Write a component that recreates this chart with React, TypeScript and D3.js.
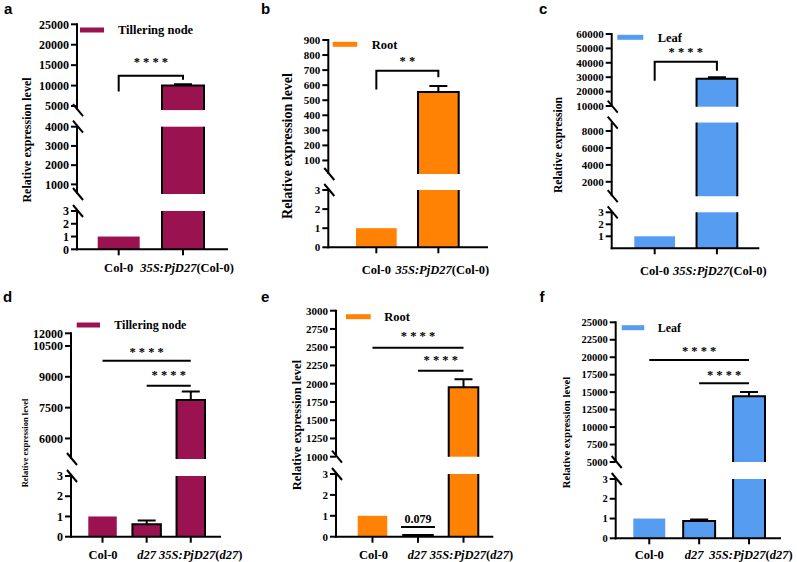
import React from "react";
import * as d3 from "d3";

// genotypes
const colGroups = ["Col-0", "35S:PjD27(Col-0)"];
const d27Groups = ["Col-0", "d27", "35S:PjD27(d27)"];

// relative expression, Col-0 background
const tilleringCol = [1, 10000];
const tilleringColErr = [0, 300];
const rootCol = [1, 555];
const rootColErr = [0, 40];
const leafCol = [1, 29000];
const leafColErr = [0, 1000];

// relative expression, d27 background
const tilleringD27 = [1, 0.62, 7870];
const tilleringD27Err = [0, 0.18, 410];
const rootD27 = [1, 0.079, 1950];
const rootD27Err = [0, 0, 110];
const leafD27 = [1, 0.88, 14400];
const leafD27Err = [0, 0.07, 620];

// broken-axis tick values
const ticksA = [[0, 1, 2, 3], [1000, 2000, 3000, 4000], [5000, 10000, 15000, 20000, 25000]];
const ticksB = [[0, 1, 2, 3], [100, 200, 300, 400, 500, 600, 700, 800, 900]];
const ticksC = [[1, 2, 3], [2000, 4000, 6000, 8000], [10000, 20000, 30000, 40000, 50000, 60000]];
const ticksD = [[0, 1, 2, 3], [6000, 7500, 9000, 10500, 12000]];
const ticksE = [[0, 1, 2, 3], [1000, 1250, 1500, 1750, 2000, 2250, 2500, 2750, 3000]];
const ticksF = [[0, 1, 2, 3], [5000, 7500, 10000, 12500, 15000, 17500, 20000, 22500, 25000]];

const MAROON = "#9b1250";
const ORANGE = "#ff8204";
const BLUE = "#569cf0";
const serif = '"Liberation Serif", "Times New Roman", "DejaVu Serif", serif';
const sans = '"Liberation Sans", Arial, sans-serif';

type Segment = { domain: number[]; range: number[]; ticks: number[] };
type Sig = { a: number; b: number; level: number; legs?: number[]; stars: string; above: number };
type PanelSpec = {
  letter: string;
  letterPos: number[];
  groups: string[];
  values: number[];
  errors: number[];
  color: string;
  axisX: number;
  axisEnd: number;
  barRange: number[];
  pad: number;
  segments: Segment[];
  tickSize: number;
  yLabel: string;
  yLabelPos: number[];
  yLabelSize: number;
  xLabelY: number;
  xLabelShift: number[];
  legend: string;
  swatch: number[];
  legendY: number;
  legendTextX: number;
  legendSize: number;
  sigs: Sig[];
  valueLabel?: number;
};

function labelParts(label: string) {
  // genotype names in italics
  return label
    .split(/(35S:PjD27|d27)/)
    .filter(Boolean)
    .map((t) => ({ t, italic: t === "35S:PjD27" || t === "d27" }));
}

function Panel({ p }: { p: PanelSpec }) {
  const ys = p.segments.map((s) => d3.scaleLinear().domain(s.domain).range(s.range));
  const segOf = (v: number) => {
    let k = 0;
    p.segments.forEach((s, i) => {
      if (v >= s.domain[0]) k = i;
    });
    return k;
  };
  const y = (v: number) => ys[segOf(v)](v);
  const x = d3.scaleBand<string>().domain(p.groups).range([p.barRange[0], p.barRange[1]]).paddingInner(p.pad);
  const bw = x.bandwidth();
  const cx = (i: number) => (x(p.groups[i]) ?? 0) + bw / 2;
  const base = p.segments[0].range[0];
  const ax = p.axisX;
  const n = p.segments.length;
  const k2 = { stroke: "#000", strokeWidth: 2, fill: "none" };

  const brk = (yy: number) => (
    <line x1={ax - 4} y1={yy - 6} x2={ax + 6} y2={yy + 6} {...k2} />
  );

  return (
    <g style={{ fontFamily: serif, fontWeight: "bold" }}>
      <text x={p.letterPos[0]} y={p.letterPos[1]} style={{ fontFamily: sans }} fontSize={15}>
        {p.letter}
      </text>

      {/* bars, split across axis segments */}
      {p.groups.map((g, i) => {
        const v = p.values[i];
        const x0 = x(g) ?? 0;
        return (
          <g key={g}>
            {p.segments.map((s, k) => {
              const lo = s.domain[0];
              const hi = s.domain[s.domain.length - 1];
              if (v <= lo) return null;
              const top = Math.min(v, hi);
              const y0 = ys[k](lo);
              const y1 = ys[k](top);
              return (
                <g key={k}>
                  <rect x={x0} y={y1} width={bw} height={y0 - y1} fill={p.color} />
                  {i > 0 && (
                    <path
                      d={`M${x0},${y0}V${y1}${v <= hi ? `H${x0 + bw}` : `M${x0 + bw},${y1}`}V${y0}`}
                      {...k2}
                    />
                  )}
                </g>
              );
            })}
          </g>
        );
      })}

      {/* error bars */}
      {p.groups.map((g, i) => {
        const e = p.errors[i];
        if (!e) return null;
        const v = p.values[i];
        const c = cx(i);
        return <path key={g} d={`M${c},${y(v)}V${y(v + e)}M${c - 9},${y(v + e)}H${c + 9}`} {...k2} />;
      })}

      {/* y axis */}
      {p.segments.map((s, k) => {
        const r0 = s.range[0];
        const r1 = s.range[s.range.length - 1];
        return (
          <g key={k}>
            <line x1={ax} x2={ax} y1={r0 + (k === 0 ? 1 : 0)} y2={r1 - (k === n - 1 ? 1 : 0)} {...k2} />
            {s.ticks.map((t) => (
              <g key={t}>
                <line x1={ax - 6} x2={ax} y1={ys[k](t)} y2={ys[k](t)} {...k2} />
                <text x={ax - 8} y={ys[k](t)} dy="0.35em" textAnchor="end" fontSize={p.tickSize}>
                  {t}
                </text>
              </g>
            ))}
            {k > 0 && brk(r0)}
            {k < n - 1 && brk(r1)}
          </g>
        );
      })}
      <text
        transform={`translate(${p.yLabelPos[0]},${p.yLabelPos[1]}) rotate(-90)`}
        textAnchor="middle"
        dy="0.35em"
        fontSize={p.yLabelSize}
      >
        {p.yLabel}
      </text>

      {/* x axis */}
      <line x1={ax - 1} x2={p.axisEnd} y1={base} y2={base} {...k2} />
      {p.groups.map((g, i) => (
        <g key={g}>
          <line x1={cx(i)} x2={cx(i)} y1={base} y2={base + 6} {...k2} />
          <text x={cx(i) + p.xLabelShift[i]} y={p.xLabelY} textAnchor="middle" fontSize={12.5}>
            {labelParts(g).map((part, j) => (
              <tspan key={j} fontStyle={part.italic ? "italic" : "normal"}>
                {part.t}
              </tspan>
            ))}
          </text>
        </g>
      ))}

      {/* legend */}
      <rect x={p.swatch[0]} y={p.legendY - 2.5} width={p.swatch[1] - p.swatch[0]} height={5} fill={p.color} />
      <text x={p.legendTextX} y={p.legendY} dy="0.35em" fontSize={p.legendSize}>
        {p.legend}
      </text>

      {/* significance */}
      {p.sigs.map((s, j) => {
        const ly = y(s.level);
        const d = s.legs
          ? `M${cx(s.a)},${y(s.legs[0])}V${ly}H${cx(s.b)}V${y(s.legs[1])}`
          : `M${cx(s.a)},${ly}H${cx(s.b)}`;
        return (
          <g key={j}>
            <path d={d} {...k2} />
            <text x={(cx(s.a) + cx(s.b)) / 2} y={ly - s.above + 6} textAnchor="middle" fontSize={12.5}>
              {s.stars}
            </text>
          </g>
        );
      })}

      {p.valueLabel !== undefined && (
        <g>
          <line
            x1={cx(p.valueLabel) - 17}
            x2={cx(p.valueLabel) + 17}
            y1={y(p.values[p.valueLabel]) - 8}
            y2={y(p.values[p.valueLabel]) - 8}
            {...k2}
          />
          <text x={cx(p.valueLabel)} y={y(p.values[p.valueLabel]) - 12} textAnchor="middle" fontSize={12}>
            {d3.format(".3f")(p.values[p.valueLabel])}
          </text>
        </g>
      )}
    </g>
  );
}

const panels: PanelSpec[] = [
  {
    letter: "a",
    letterPos: [4, 14],
    groups: colGroups,
    values: tilleringCol,
    errors: tilleringColErr,
    color: MAROON,
    axisX: 77,
    axisEnd: 228,
    barRange: [97.7, 204],
    pad: 0.347,
    segments: [
      { domain: [0, 3], range: [249.3, 211], ticks: ticksA[0] },
      { domain: [500, 4000], range: [194, 126.7], ticks: ticksA[1] },
      { domain: [4000, 25000], range: [110.1, 24.3], ticks: ticksA[2] },
    ],
    tickSize: 12,
    yLabel: "Relative expression level",
    yLabelPos: [26.7, 140],
    yLabelSize: 12,
    xLabelY: 272,
    xLabelShift: [0, 4],
    legend: "Tillering node",
    swatch: [80, 104],
    legendY: 30,
    legendTextX: 118,
    legendSize: 12.5,
    sigs: [{ a: 0, b: 1, level: 12400, legs: [8530, 11400], stars: "* * * *", above: 15.7 }],
  },
  {
    letter: "b",
    letterPos: [261, 14],
    groups: colGroups,
    values: rootCol,
    errors: rootColErr,
    color: ORANGE,
    axisX: 328.3,
    axisEnd: 488,
    barRange: [356, 458.7],
    pad: 0.344,
    segments: [
      { domain: [0, 3], range: [247.3, 190], ticks: ticksB[0] },
      { domain: [10, 900], range: [174, 40], ticks: ticksB[1] },
    ],
    tickSize: 11,
    yLabel: "Relative expression level",
    yLabelPos: [286.7, 146],
    yLabelSize: 14,
    xLabelY: 274,
    xLabelShift: [0, 4],
    legend: "Root",
    swatch: [332.7, 357.3],
    legendY: 44.3,
    legendTextX: 371.7,
    legendSize: 12.5,
    sigs: [{ a: 0, b: 1, level: 695, legs: [572, 652], stars: "* *", above: 11.7 }],
  },
  {
    letter: "c",
    letterPos: [539, 14],
    groups: colGroups,
    values: leafCol,
    errors: leafColErr,
    color: BLUE,
    axisX: 611.7,
    axisEnd: 759.3,
    barRange: [634.3, 737.3],
    pad: 0.345,
    segments: [
      { domain: [0, 3], range: [248.3, 212.3], ticks: ticksC[0] },
      { domain: [300, 9000], range: [196.2, 122.55], ticks: ticksC[1] },
      { domain: [9500, 60000], range: [106.7, 34], ticks: ticksC[2] },
    ],
    tickSize: 11,
    yLabel: "Relative expression",
    yLabelPos: [557.7, 145],
    yLabelSize: 11.7,
    xLabelY: 275,
    xLabelShift: [0, 3],
    legend: "Leaf",
    swatch: [617.3, 643.3],
    legendY: 37.3,
    legendTextX: 657.7,
    legendSize: 12.5,
    sigs: [{ a: 0, b: 1, level: 40770, legs: [27570, 34500], stars: "* * * *", above: 11.7 }],
  },
  {
    letter: "d",
    letterPos: [3, 301.5],
    groups: d27Groups,
    values: tilleringD27,
    errors: tilleringD27Err,
    color: MAROON,
    axisX: 71,
    axisEnd: 221,
    barRange: [88.3, 205],
    pad: 0.355,
    segments: [
      { domain: [0, 3], range: [536.7, 476], ticks: ticksD[0] },
      { domain: [5000, 10500, 12000], range: [459, 346, 333.3], ticks: ticksD[1] },
    ],
    tickSize: 12,
    yLabel: "Relative expression level",
    yLabelPos: [25, 443],
    yLabelSize: 8.5,
    xLabelY: 559,
    xLabelShift: [0.5, 0, 10],
    legend: "Tillering node",
    swatch: [76.7, 100],
    legendY: 325,
    legendTextX: 114.3,
    legendSize: 12,
    sigs: [
      { a: 0, b: 2, level: 9785, stars: "* * * *", above: 10.7 },
      { a: 1, b: 2, level: 8568, stars: "* * * *", above: 12.4 },
    ],
  },
  {
    letter: "e",
    letterPos: [261, 301.5],
    groups: d27Groups,
    values: rootD27,
    errors: rootD27Err,
    color: ORANGE,
    axisX: 336,
    axisEnd: 493.3,
    barRange: [357.7, 478.3],
    pad: 0.35,
    segments: [
      { domain: [0, 3], range: [536.7, 474], ticks: ticksE[0] },
      { domain: [1000, 3000], range: [456.7, 310.7], ticks: ticksE[1] },
    ],
    tickSize: 11,
    yLabel: "Relative expression level",
    yLabelPos: [296.7, 425],
    yLabelSize: 12.5,
    xLabelY: 559,
    xLabelShift: [1, -1, 8],
    legend: "Root",
    swatch: [346, 370.7],
    legendY: 316.7,
    legendTextX: 384.3,
    legendSize: 12.5,
    sigs: [
      { a: 0, b: 2, level: 2493, stars: "* * * *", above: 13.4 },
      { a: 1, b: 2, level: 2178, stars: "* * * *", above: 12.4 },
    ],
    valueLabel: 1,
  },
  {
    letter: "f",
    letterPos: [539.5, 301.5],
    groups: d27Groups,
    values: leafD27,
    errors: leafD27Err,
    color: BLUE,
    axisX: 615.7,
    axisEnd: 781,
    barRange: [633.3, 765],
    pad: 0.36,
    segments: [
      { domain: [0, 3], range: [538.3, 479], ticks: ticksF[0] },
      { domain: [5000, 25000], range: [462, 322.3], ticks: ticksF[1] },
    ],
    tickSize: 10.5,
    yLabel: "Relative expression level",
    yLabelPos: [566.7, 432.5],
    yLabelSize: 10.7,
    xLabelY: 559,
    xLabelShift: [0, -5, 2],
    legend: "Leaf",
    swatch: [621.7, 644.3],
    legendY: 327.7,
    legendTextX: 657.7,
    legendSize: 12,
    sigs: [
      { a: 0, b: 2, level: 19600, stars: "* * * *", above: 10.7 },
      { a: 1, b: 2, level: 16260, stars: "* * * *", above: 10 },
    ],
  },
];

export default function App() {
  return (
    <svg
      width={797}
      height={562}
      style={{ position: "absolute", left: 0, top: 0, background: "#fff" }}
    >
      {panels.map((p) => (
        <Panel key={p.letter} p={p} />
      ))}
    </svg>
  );
}
